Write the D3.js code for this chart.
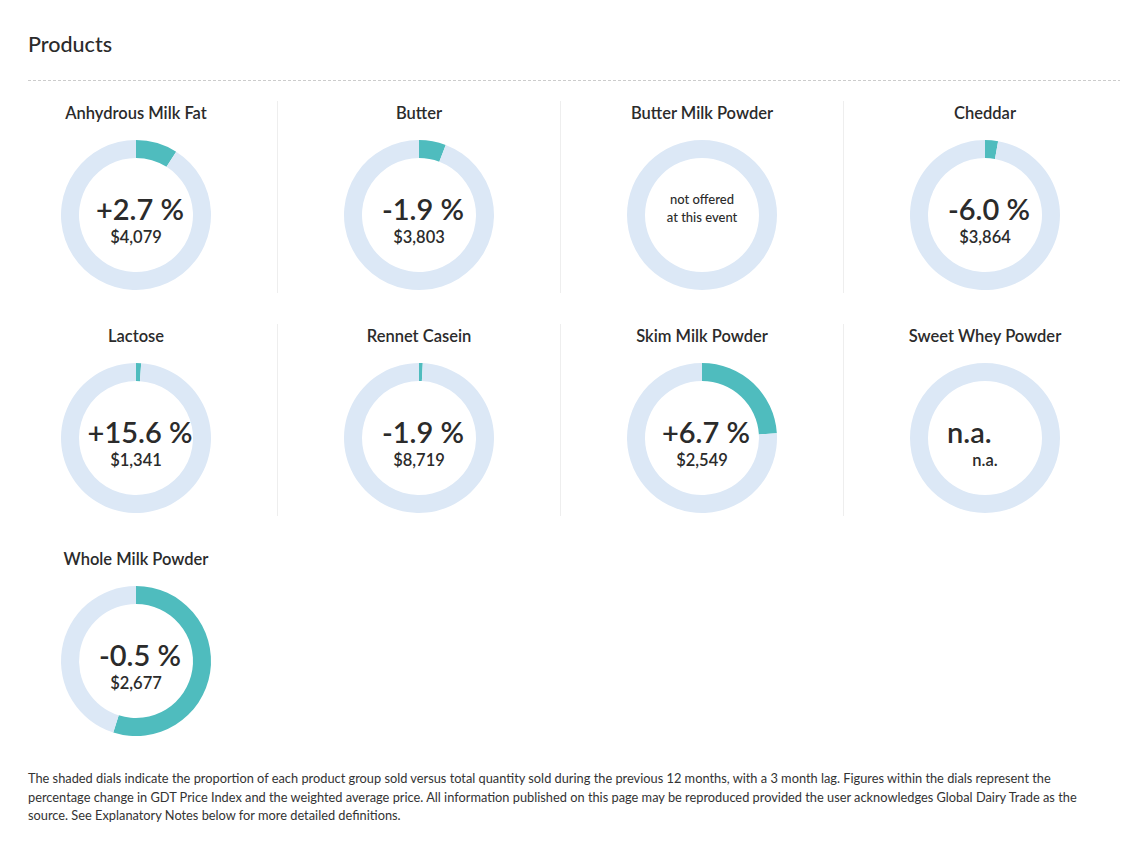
<!DOCTYPE html>
<html>
<head>
<meta charset="utf-8">
<script src="https://cdn.jsdelivr.net/npm/d3@7"></script>
<style>
    body { margin: 0; background: #fff; font-family: Lato, "Open Sans", sans-serif; }
</style>
</head>
<body>
<script>
const products = ["Anhydrous Milk Fat", "Butter", "Butter Milk Powder", "Cheddar", "Lactose", "Rennet Casein", "Skim Milk Powder", "Sweet Whey Powder", "Whole Milk Powder"]
// share of total quantity sold (read off the dials), null = not offered / n.a.
const shares = [0.09, 0.058, null, 0.028, 0.011, 0.008, 0.24, null, 0.549]
const changes = ["+2.7 %", "-1.9 %", null, "-6.0 %", "+15.6 %", "-1.9 %", "+6.7 %", "n.a.", "-0.5 %"]
const prices = ["$4,079", "$3,803", null, "$3,864", "$1,341", "$8,719", "$2,549", "n.a.", "$2,677"]
const footnote = [
    "The shaded dials indicate the proportion of each product group sold versus total quantity sold during the previous 12 months, with a 3 month lag. Figures within the dials represent the",
    "percentage change in GDT Price Index and the weighted average price. All information published on this page may be reproduced provided the user acknowledges Global Dairy Trade as the",
    "source. See Explanatory Notes below for more detailed definitions."
]

const width = 1145
const height = 841
const cols = 4
const outerR = 75
const innerR = 57

const svg = d3.select("body")
    .append("svg")
    .attr("width", width)
    .attr("height", height)

svg.append("text")
    .attr("x", 28)
    .attr("y", 52)
    .attr("font-size", "21.5px")
    .attr("font-weight", 500)
    .attr("fill", "#2b2b2b")
    .text("Products")

svg.append("line")
    .attr("x1", 28).attr("x2", 1120)
    .attr("y1", 80.5).attr("y2", 80.5)
    .attr("stroke", "#ccc")
    .attr("stroke-dasharray", "3,2")

const items = products.map((name, i) => ({ name, share: shares[i], change: changes[i], price: prices[i], i }))

const x = d3.scaleBand().domain(d3.range(cols)).range([-5.5, 1126.5])
const y = d3.scaleLinear().domain([0, 1]).range([215, 438])

const pie = d3.pie().sort(null).value((d) => d)
const arc = d3.arc().innerRadius(innerR).outerRadius(outerR)

const cells = svg.selectAll("g.cell")
    .data(items)
    .join("g")
    .attr("class", "cell")
    .attr("transform", (d) => `translate(${x(d.i % cols) + x.bandwidth() / 2},${y(Math.floor(d.i / cols))})`)

// column separators (not after the last column)
cells.filter((d) => d.i % cols !== cols - 1 && d.i < 8)
    .append("line")
    .attr("x1", x.bandwidth() / 2).attr("x2", x.bandwidth() / 2)
    .attr("y1", -114).attr("y2", 78)
    .attr("stroke", "#eeeeee")

cells.append("text")
    .attr("y", -96)
    .attr("text-anchor", "middle")
    .attr("font-size", "16.5px")
    .attr("font-weight", 600)
    .attr("fill", "#2b2b2b")
    .text((d) => d.name)

cells.selectAll("path")
    .data((d) => pie([d.share || 0, 1 - (d.share || 0)]))
    .join("path")
    .attr("d", arc)
    .attr("fill", (d, j) => j === 0 ? "#4fbcbe" : "#dce8f6")

// percentage change
cells.filter((d) => d.change && d.change !== "n.a.")
    .append("text")
    .attr("y", 5)
    .attr("dx", 4)
    .attr("text-anchor", "middle")
    .attr("font-size", "29px")
    .attr("font-weight", 600)
    .attr("fill", "#2b2b2b")
    .text((d) => d.change)

cells.filter((d) => d.change === "n.a.")
    .append("text")
    .attr("x", -38)
    .attr("y", 5)
    .attr("font-size", "29px")
    .attr("font-weight", 600)
    .attr("fill", "#2b2b2b")
    .text((d) => d.change)

// weighted average price
cells.filter((d) => d.price)
    .append("text")
    .attr("y", 28)
    .attr("text-anchor", "middle")
    .attr("font-size", "16.5px")
    .attr("font-weight", 600)
    .attr("fill", "#2b2b2b")
    .text((d) => d.price)

const notOffered = cells.filter((d) => d.share === null && d.change === null)
    .append("text")
    .attr("text-anchor", "middle")
    .attr("font-size", "13px")
    .attr("font-weight", 500)
    .attr("fill", "#2b2b2b")
notOffered.append("tspan").attr("x", 0).attr("y", -11).text("not offered")
notOffered.append("tspan").attr("x", 0).attr("y", 7).text("at this event")

svg.append("g")
    .selectAll("text")
    .data(footnote)
    .join("text")
    .attr("x", 28)
    .attr("y", (d, i) => 783 + i * 18.5)
    .attr("font-size", "12.8px")
    .attr("fill", "#333")
    .text((d) => d)
</script>
</body>
</html>
